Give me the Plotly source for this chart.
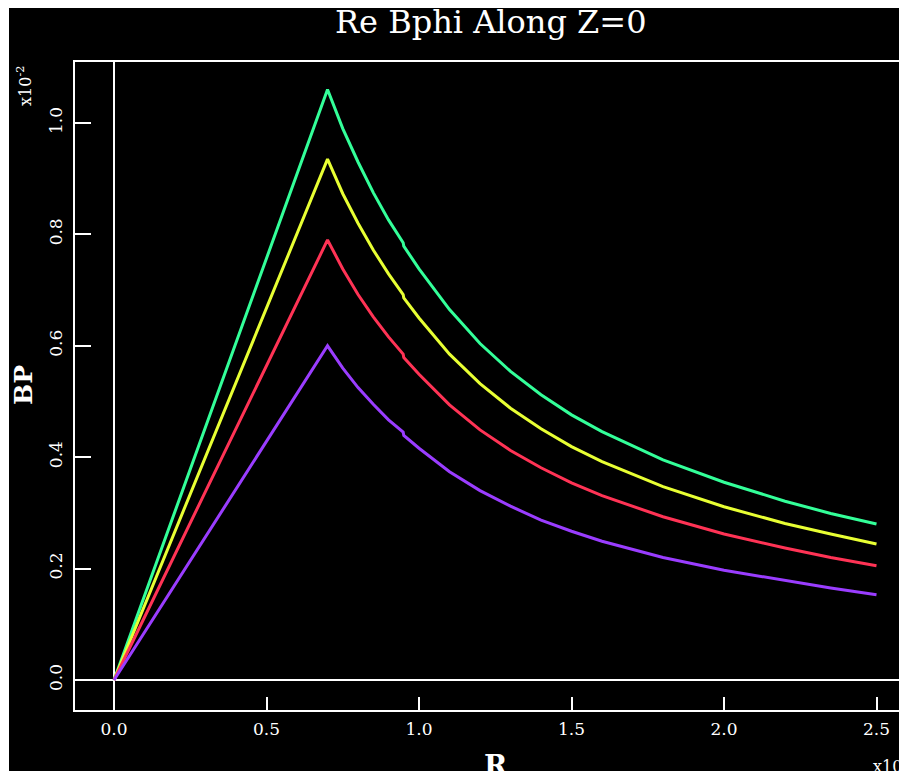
import plotly.graph_objects as go

# ---- data ----
R = [0, 0.7, 0.75, 0.8, 0.85, 0.9, 0.948, 0.95, 1.0, 1.1, 1.2, 1.3, 1.4, 1.5, 1.6, 1.8, 2.0, 2.2, 2.35, 2.5]
bp_green = [0, 1.06, 0.99, 0.93, 0.875, 0.826, 0.785, 0.779, 0.738, 0.665, 0.604, 0.554, 0.512, 0.476, 0.446, 0.395, 0.355, 0.321, 0.299, 0.280]
bp_yellow = [0, 0.935, 0.873, 0.820, 0.772, 0.729, 0.692, 0.686, 0.650, 0.585, 0.532, 0.488, 0.451, 0.419, 0.392, 0.347, 0.311, 0.281, 0.262, 0.244]
bp_red = [0, 0.79, 0.738, 0.692, 0.652, 0.616, 0.585, 0.579, 0.549, 0.494, 0.449, 0.412, 0.381, 0.354, 0.331, 0.293, 0.262, 0.237, 0.220, 0.205]
bp_purple = [0, 0.60, 0.560, 0.525, 0.495, 0.467, 0.445, 0.439, 0.416, 0.374, 0.340, 0.312, 0.287, 0.267, 0.249, 0.220, 0.197, 0.178, 0.165, 0.153]
x_ticks = [0.0, 0.5, 1.0, 1.5, 2.0, 2.5]
y_ticks = [0.0, 0.2, 0.4, 0.6, 0.8, 1.0]

OFF = 8  # page body margin
W, H = 907 - OFF, 773 - OFF
# plot area in page pixels: left 75, top 62, right 907, bottom 710
L = 75 - OFF
T = 62 - OFF
B = H - (710 - OFF)
Rm = 0
PW, PH = W - L - Rm, H - T - B

def px(x):
    return (x - OFF - L) / PW

def py(y):
    return (H - B - (y - OFF)) / PH

series = [
    (bp_green, "#33ff99"),
    (bp_yellow, "#e8ff33"),
    (bp_red, "#ff3355"),
    (bp_purple, "#9a3dff"),
]

fig = go.Figure()
for vals, col in series:
    fig.add_trace(go.Scatter(x=R, y=vals, mode="lines",
                             line=dict(color=col, width=3), showlegend=False))

serif = "DejaVu Serif"
axis_common = dict(showline=True, linecolor="white", linewidth=2,
                   ticks="inside", tickcolor="white", tickwidth=2,
                   showgrid=False, zeroline=True, zerolinecolor="white", zerolinewidth=2,
                   tickfont=dict(family=serif, size=17, color="white"))

fig.update_xaxes(range=[-0.128, 2.6], tickvals=x_ticks, tickformat=".1f", ticklen=13,
                 mirror=True, ticklabelstandoff=3, **axis_common)
fig.update_yaxes(range=[-0.0539, 1.1095], tickvals=y_ticks, tickformat=".1f", ticklen=16,
                 mirror=False, tickangle=-90, ticklabelstandoff=4, **axis_common)

fig.add_shape(type="rect", xref="paper", yref="paper",
              x0=px(9), x1=px(915), y0=py(771), y1=py(5),
              fillcolor="black", line=dict(width=0), layer="below")

ann = []
ann.append(dict(text="Re Bphi Along Z=0", x=px(491), y=py(22), xref="paper", yref="paper",
                showarrow=False, font=dict(family=serif, size=32, color="white"),
                xanchor="center", yanchor="middle"))
ann.append(dict(text="<b>BP</b>", x=px(23), y=py(385), xref="paper", yref="paper",
                showarrow=False, textangle=-90, font=dict(family=serif, size=25, color="white"),
                xanchor="center", yanchor="middle"))
ann.append(dict(text="<b>R</b>", x=px(496), y=py(765), xref="paper", yref="paper",
                showarrow=False, font=dict(family=serif, size=28, color="white"),
                xanchor="center", yanchor="middle"))
ann.append(dict(text="x10<sup>-2</sup>", x=px(24), y=py(86), xref="paper", yref="paper",
                showarrow=False, textangle=-90, font=dict(family=serif, size=16, color="white"),
                xanchor="center", yanchor="middle"))
ann.append(dict(text="x10<sup>-1</sup>", x=px(871), y=py(765), xref="paper", yref="paper",
                showarrow=False, font=dict(family=serif, size=16, color="white"),
                xanchor="left", yanchor="middle"))

fig.update_layout(width=W, height=H, margin=dict(l=L, r=Rm, t=T, b=B, pad=0),
                  paper_bgcolor="white", plot_bgcolor="black",
                  annotations=ann, showlegend=False)

fig.write_html("out.html")
